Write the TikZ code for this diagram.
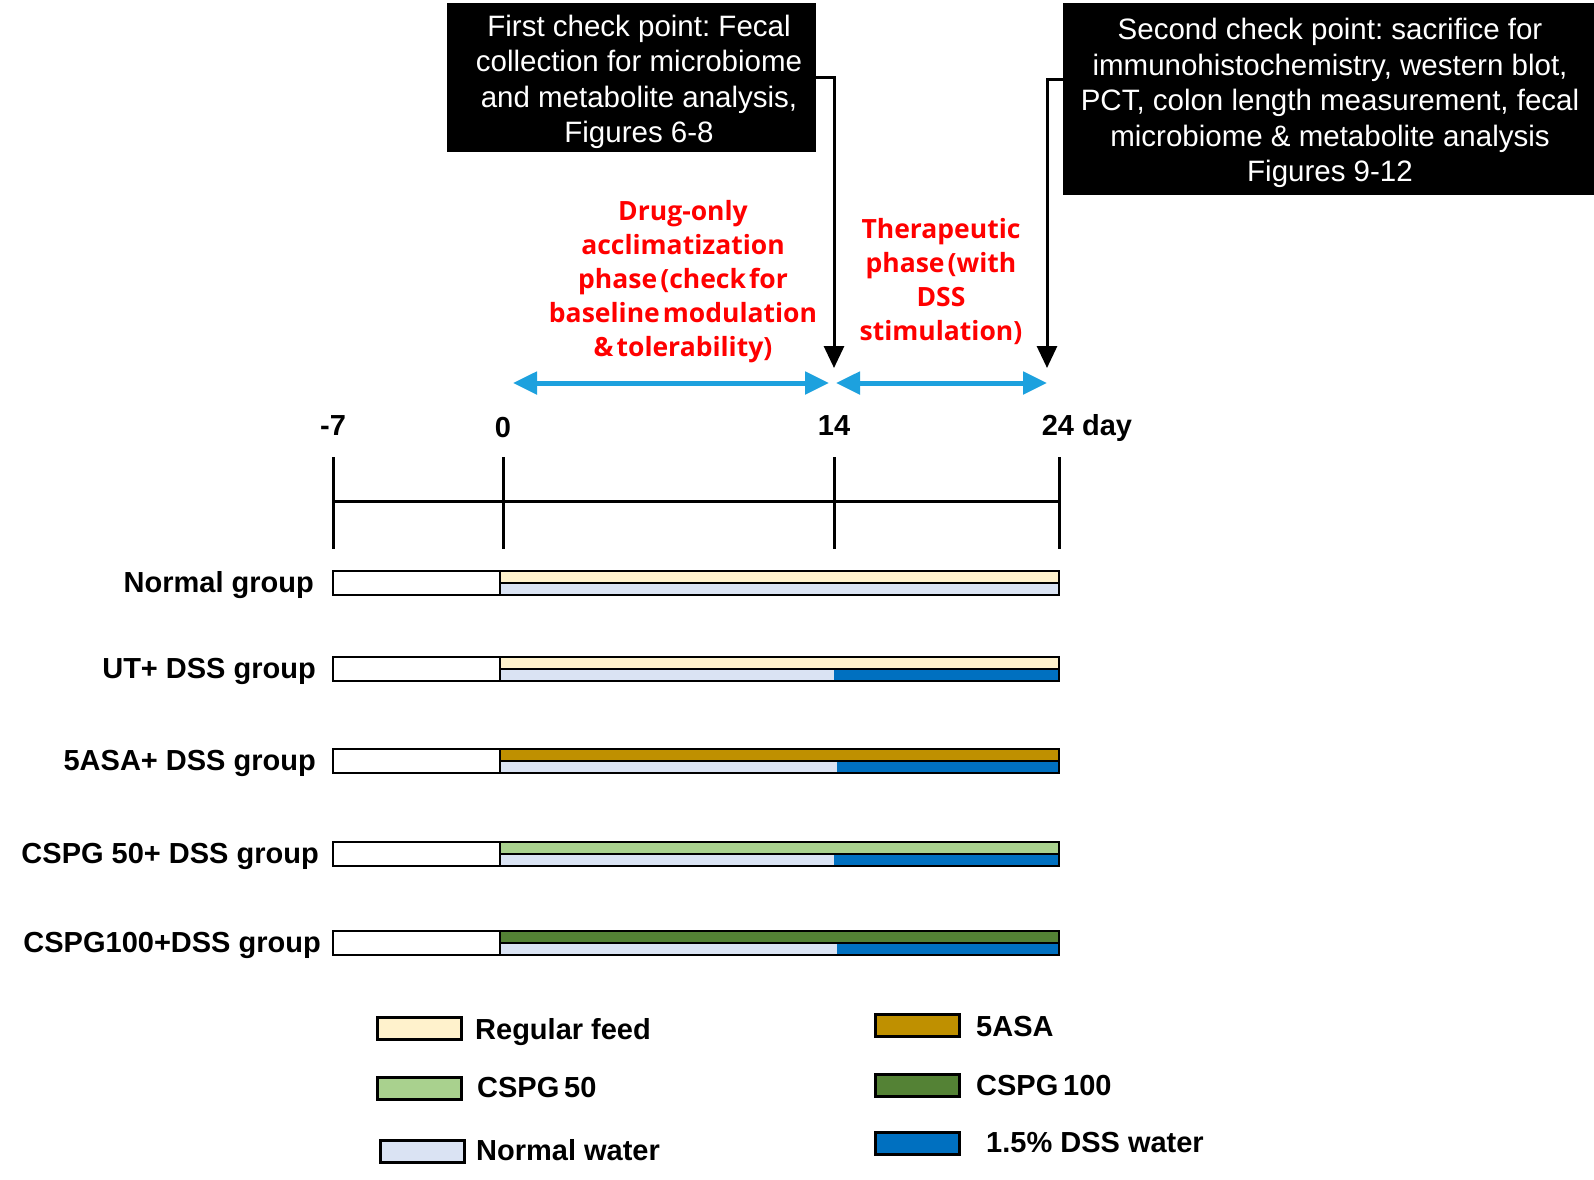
\documentclass[tikz,border=0pt]{standalone}
\usepackage{fontspec}
\setmainfont{Liberation Sans}
\newfontfamily\redfont[WordSpace=0.45]{Open Sans}
\usetikzlibrary{arrows.meta}
\frenchspacing
\definecolor{feed}{HTML}{FFF2CC}
\definecolor{water}{HTML}{DAE3F3}
\definecolor{dss}{HTML}{0070C0}
\definecolor{asa}{HTML}{BF9000}
\definecolor{cspgA}{HTML}{A9D18E}
\definecolor{cspgB}{HTML}{548235}
\definecolor{arrowblue}{RGB}{29,161,222}
\definecolor{phasered}{RGB}{255,0,0}
\newcommand\grprow[6]{% y, topcolor, label, labelx, dss start, name
  \fill[#2] (500,#1-12) rectangle (1059,#1);
  \fill[water] (500,#1) rectangle (1059,#1+12);
  \fill[dss] (#5,#1) rectangle (1059,#1+12);
  \draw[barline] (333,#1-12) rectangle (1059,#1+12);
  \draw[barline] (500,#1-12) -- (500,#1+12);
  \draw[barline] (500,#1) -- (1059,#1);
  \node[lbl, anchor=east] (#6) at (#4,#1+2) {#3};
}
\begin{document}
\begin{tikzpicture}[x=1pt,y=-1pt,
  cbox/.style={fill=black, inner sep=0pt},
  ctext/.style={text=white, align=center, inner sep=0pt,
    font=\fontsize{29.5}{35.5}\selectfont},
  redtxt/.style={text=phasered, align=center, inner sep=0pt,
    font=\redfont\bfseries\fontsize{26.5}{34}\selectfont},
  lbl/.style={font=\bfseries\fontsize{29}{34}\selectfont, inner sep=0pt,
    text height=21pt, text depth=6pt},
  blkarrow/.style={line width=3pt, -{Triangle[length=22pt,width=20pt]}},
  bluearrow/.style={line width=5pt, arrowblue, {Triangle[length=24pt,width=22pt]}-{Triangle[length=24pt,width=22pt]}},
  axis/.style={line width=3pt},
  barline/.style={line width=2.5pt, black},
  swatch/.style={draw=black, line width=3pt, minimum width=84pt, minimum height=22pt, inner sep=0pt}
]
\useasboundingbox[fill=white] (0,0) rectangle (1594,1179);

% check point boxes
\node[cbox, minimum width=369pt, minimum height=149pt] (box1) at (631.5,77.5) {};
\node[ctext] (box1t) at (639,82)
  {First check point: Fecal\\collection for microbiome\\and metabolite analysis,\\Figures 6-8};
\node[cbox, minimum width=531pt, minimum height=192pt] (box2) at (1328.5,99) {};
\node[ctext] (box2t) at (1330,103)
  {Second check point: sacrifice for\\immunohistochemistry, western blot,\\PCT, colon length measurement, fecal\\microbiome \& metabolite analysis\\Figures 9-12};

\coordinate (c14) at (834,368);
\coordinate (c24) at (1047,368);
\draw[blkarrow] (box1.east) -| (c14);
\draw[blkarrow] ([yshift=20pt]box2.west) -| (c24);

% phase texts
\node[redtxt] (ph1) at (683,282)
  {Drug-only\\acclimatization\\phase (check for\\baseline modulation\\\& tolerability)};
\node[redtxt] (ph2) at (941,282)
  {Therapeutic\\phase (with\\DSS\\stimulation)};

% blue phase arrows
\coordinate (b0) at (513,383);
\coordinate (b14l) at (829,383);
\coordinate (b14r) at (836,383);
\coordinate (b24) at (1047,383);
\draw[bluearrow] (b0) -- (b14l);
\draw[bluearrow] (b14r) -- (b24);

% timeline
\coordinate (tA) at (333,501);
\coordinate (tB) at (503,501);
\coordinate (tC) at (834,501);
\coordinate (tD) at (1059,501);
\draw[axis] (tA) -- (tD);
\foreach \t in {tA,tB,tC,tD} \draw[axis] ([yshift=44pt]\t) -- ([yshift=-48pt]\t);
\node[lbl] (dA) at (333,428) {-7};
\node[lbl] (dB) at (503,430) {0};
\node[lbl] (dC) at (834,428) {14};
\node[lbl] (dD) at (1087,428) {24 day};

% group rows
\grprow{583}{feed}{Normal group}{314}{1059}{gN}
\grprow{669}{feed}{UT+ DSS group}{316}{834}{gU}
\grprow{761}{asa}{5ASA+ DSS group}{316}{837}{gA}
\grprow{854}{cspgA}{CSPG 50+ DSS group}{319}{834}{gC}
\grprow{943}{cspgB}{CSPG100+DSS group}{321}{837}{gD}

% legend
\node[swatch, fill=feed] (s1) at (419,1028) {};
\node[swatch, fill=cspgA] (s2) at (419,1088) {};
\node[swatch, fill=water] (s3) at (422,1151) {};
\node[swatch, fill=asa] (s4) at (917.5,1025.5) {};
\node[swatch, fill=cspgB] (s5) at (917.5,1085) {};
\node[swatch, fill=dss] (s6) at (917.5,1143) {};
\node[lbl, anchor=west] (l1) at (475,1032) {Regular feed};
\node[lbl, anchor=west] (l2) at (477,1090) {CSPG\,50};
\node[lbl, anchor=west] (l3) at (476,1153) {Normal water};
\node[lbl, anchor=west] (l4) at (976,1029) {5ASA};
\node[lbl, anchor=west] (l5) at (976,1088) {CSPG\,100};
\node[lbl, anchor=west] (l6) at (986,1145) {1.5\% DSS water};
\end{tikzpicture}
\end{document}
